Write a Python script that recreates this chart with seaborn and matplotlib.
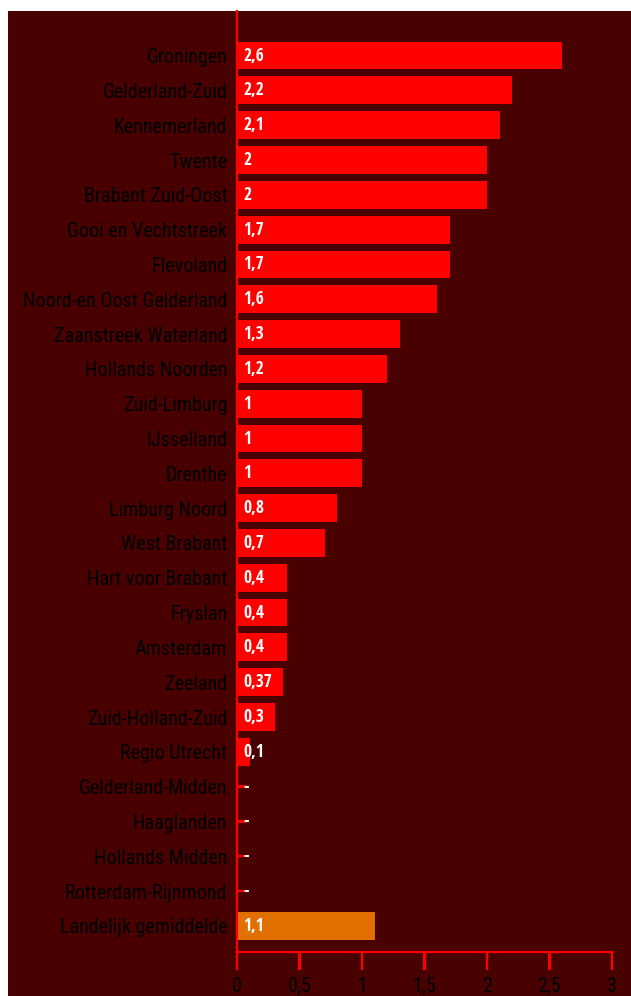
import matplotlib
matplotlib.use("Agg")
import matplotlib.pyplot as plt
import seaborn as sns
from matplotlib import font_manager as fm
from matplotlib.patches import Rectangle

regions = ["Groningen", "Gelderland-Zuid", "Kennemerland", "Twente", "Brabant Zuid-Oost",
           "Gooi en Vechtstreek", "Flevoland", "Noord-en Oost Gelderland", "Zaanstreek Waterland",
           "Hollands Noorden", "Zuid-Limburg", "IJsselland", "Drenthe", "Limburg Noord",
           "West Brabant", "Hart voor Brabant", "Fryslan", "Amsterdam", "Zeeland",
           "Zuid-Holland-Zuid", "Regio Utrecht", "Gelderland-Midden", "Haaglanden",
           "Hollands Midden", "Rotterdam-Rijnmond", "Landelijk gemiddelde"]
values = [2.6, 2.2, 2.1, 2, 2, 1.7, 1.7, 1.6, 1.3, 1.2, 1, 1, 1, 0.8, 0.7, 0.4, 0.4, 0.4,
          0.37, 0.3, 0.1, 0, 0, 0, 0, 1.1]
value_labels = ["2,6", "2,2", "2,1", "2", "2", "1,7", "1,7", "1,6", "1,3", "1,2", "1", "1", "1",
                "0,8", "0,7", "0,4", "0,4", "0,4", "0,37", "0,3", "0,1", "-", "-", "-", "-", "1,1"]
x_ticks = [0, 0.5, 1, 1.5, 2, 2.5, 3]
x_tick_labels = ["0", "0,5", "1", "1,5", "2", "2,5", "3"]

BG = "#480000"
RED = "#ff0000"
ORANGE = "#e27000"

weights = {}
for f in fm.fontManager.ttflist:
    w = f.weight if isinstance(f.weight, int) else (700 if f.weight == "bold" else 400)
    if f.style == "normal":
        weights.setdefault(f.name, set()).add(w)


def pick(prefs, weight):
    for p in prefs:
        if p in weights and weight in weights[p]:
            return p
    return "DejaVu Sans"


CONDENSED = ["Open Sans Condensed", "Roboto Condensed", "PT Sans Narrow", "Fira Sans Condensed",
             "Ubuntu Condensed", "Archivo Narrow", "Liberation Sans Narrow", "Encode Sans Condensed",
             "IBM Plex Sans Condensed", "Asap Condensed", "Barlow Semi Condensed"]
TICK_FONT = pick(CONDENSED, 400)
LABEL_FONT = pick(CONDENSED, 700)

plt.rcParams.update({
    "font.family": [TICK_FONT, "DejaVu Sans"],
    "xtick.bottom": True, "xtick.top": False, "ytick.left": True, "ytick.right": False,
    "xtick.major.size": 13, "xtick.major.width": 1.6, "xtick.color": RED,
    "xtick.labelcolor": "black", "xtick.direction": "out", "xtick.major.pad": 5,
    "ytick.major.size": 7, "ytick.major.width": 1.6, "ytick.color": RED,
    "ytick.labelcolor": "black", "ytick.direction": "in", "ytick.major.pad": 7,
    "xtick.labelsize": 14.5, "ytick.labelsize": 14.5,
})

fig = plt.figure(figsize=(6.31, 9.96), dpi=100, facecolor="white")
bg = Rectangle((8 / 631, 0), 1 - 8 / 631, 1 - 11 / 996,
               transform=fig.transFigure, facecolor=BG, edgecolor="none", zorder=-10)
fig.patches.append(bg)
ax = fig.add_axes([237 / 631, 44 / 996, 375 / 631, 941 / 996])
ax.patch.set_alpha(0)

colors = [RED] * (len(regions) - 1) + [ORANGE]
sns.barplot(x=values, y=regions, hue=regions, palette=colors, legend=False,
            orient="h", width=0.8, saturation=1, linewidth=0, ax=ax)
for p in ax.patches:
    p.set_zorder(3)
    p.set_edgecolor("none")

ax.set_xlim(0, 3)
ax.set_ylim(25.75, -1.28)
ax.grid(False)

for i, lab in enumerate(value_labels):
    ax.text(0.05, i, lab, ha="left", va="center", color="white", fontsize=12.5,
            fontweight="bold", family=[LABEL_FONT, "DejaVu Sans"], zorder=5)

ax.set_xticks(x_ticks)
ax.set_xticklabels(x_tick_labels)
for sp in ["top", "right"]:
    ax.spines[sp].set_visible(False)
for sp in ["left", "bottom"]:
    ax.spines[sp].set_visible(True)
    ax.spines[sp].set_color(RED)
    ax.spines[sp].set_linewidth(1.6)
    ax.spines[sp].set_zorder(4)

ax.tick_params(axis="y", which="major", direction="in", length=7, width=1.6, color=RED,
               pad=7, left=True, right=False, labelcolor="black", labelsize=14.5)
ax.tick_params(axis="x", which="major", direction="out", length=13, width=1.6, color=RED,
               pad=5, bottom=True, top=False, labelcolor="black", labelsize=14.5)
for t in ax.get_yticklabels() + ax.get_xticklabels():
    t.set_fontweight("normal")

# tick marks as thin filled rectangles at the tick positions
xtw = 2.4 / 125.0          # ~2.4 px wide in data units
for xt in x_ticks:
    ax.add_patch(Rectangle((xt - xtw / 2, -18 / 941), xtw, 18 / 941,
                           transform=ax.get_xaxis_transform(), facecolor=RED,
                           edgecolor="none", clip_on=False, zorder=2))
ytw = 2.4 / 34.8
for yi in range(len(regions)):
    ax.add_patch(Rectangle((0, yi - ytw / 2), 9 / 375, ytw,
                           transform=ax.get_yaxis_transform(), facecolor=RED,
                           edgecolor="none", clip_on=False, zorder=2))

ax.set_xlabel("")
ax.set_ylabel("")

fig.savefig("out.png", dpi=100, facecolor="white")
